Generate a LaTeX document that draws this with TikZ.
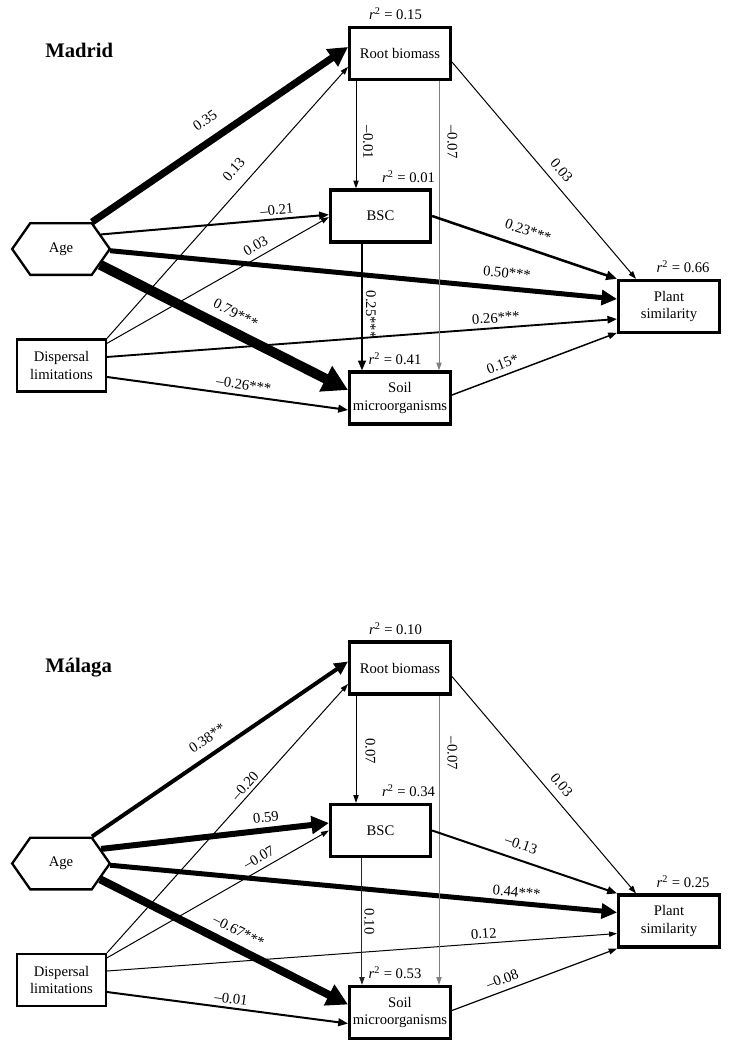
\documentclass[tikz,border=0pt]{standalone}
\usepackage{fontspec}
\setmainfont{Liberation Serif}
\usetikzlibrary{arrows.meta, shapes.symbols}

\begin{document}
\begin{tikzpicture}[x=0.75pt, y=-0.75pt,
    every node/.style={font=\fontsize{11}{13}\selectfont},
    box/.style={draw, line width=2.4pt, align=center, inner sep=1pt,
      minimum width=75.6pt, minimum height=39pt},
    hexa/.style={draw, signal, signal to=east and west, signal pointer angle=110,
      line width=1.75pt, minimum width=73.25pt, minimum height=38.75pt, inner sep=1pt},
    paneltitle/.style={font=\fontsize{15.5}{18}\selectfont\bfseries, anchor=base west, inner sep=0pt},
    rsq/.style={anchor=base, inner sep=0pt},
    coef/.style={sloped, inner sep=0pt},
    link/.style={-{Triangle[length=4.5pt 1.9, width=2.2pt 2.4]}, line width=.75pt},
  ]
  \useasboundingbox (0,0) rectangle (729,1049);

  % ---------------- Madrid ----------------
  \begin{scope}[name prefix=mad-]
    \node[paneltitle] (title) at (45,58) {Madrid};
    \node[box] (root) at (400,53.5) {Root biomass};
    \node[box, minimum width=75pt] (bsc) at (380.5,216) {BSC};
    \node[box] (soil) at (400,398) {Soil\\microorganisms};
    \node[box] (plant) at (669,306.5) {Plant\\similarity};
    \node[hexa] (age) at (61,249) {Age};
    \node[box, line width=1.75pt, minimum width=66.5pt] (disp) at (61.5,365.5) {Dispersal\\limitations};
    % r^2 above the boxes
    \node[rsq] (r2root) at ([xshift=-3.4pt, yshift=4.5pt]root.north) {\textit{r}\textsuperscript{2} = 0.15};
    \node[rsq] (r2bsc) at ([xshift=21pt, yshift=4.5pt]bsc.north) {\textit{r}\textsuperscript{2} = 0.01};
    \node[rsq] (r2soil) at ([xshift=-3.75pt, yshift=4.5pt]soil.north) {\textit{r}\textsuperscript{2} = 0.41};
    \node[rsq] (r2plant) at ([xshift=10.5pt, yshift=4.5pt]plant.north) {\textit{r}\textsuperscript{2} = 0.66};
    % paths from age
    \draw[link, line width=5.3pt] (age.41) -- ([yshift=4.9pt]root.west) node[coef, pos=.485, above=8.5pt] {0.35};
    \draw[link, line width=1.5pt] (age.20) -- ([yshift=1pt]bsc.west) node[coef, pos=.775, above=2.5pt] {–0.21};
    \draw[link, line width=3.75pt] (age.-2) -- ([yshift=5.6pt]plant.west) node[coef, pos=.78, above=6pt] {0.50***};
    \draw[link, line width=7.5pt] (age.-22) -- ([yshift=6pt]soil.west) node[coef, pos=.515, above=5.8pt] {0.79***};
    % paths from dispersal limitations
    \draw[link] (disp.north east) -- ([yshift=-10pt]root.west) node[coef, pos=.58, above=9pt] {0.13};
    \draw[link] ([yshift=-3.75pt]disp.north east) -- ([yshift=-.8pt]bsc.west) node[coef, pos=.695, above=4.5pt] {0.03};
    \draw[link, line width=1.4pt] ([yshift=6.4pt]disp.east) -- ([yshift=-9.4pt]plant.west) node[coef, pos=.764, above=3.2pt] {0.26***};
    \draw[link, line width=1.5pt] ([yshift=-8.6pt]disp.east) -- ([yshift=-9pt]soil.west) node[coef, pos=.562, above=3.5pt] {–0.26***};
    % paths from root biomass
    \draw[link] ([xshift=-33pt]root.south) -- ([xshift=-33pt]root.south |- bsc.north) node[coef, pos=.57, above=5pt] {–0.01};
    \draw[link, gray] ([xshift=29.25pt]root.south) -- ([xshift=29.25pt]root.south |- soil.north) node[coef, black, pos=.21, above=6pt] {–0.07};
    \draw[link] ([yshift=-6.4pt]root.east) -- ([xshift=-24.75pt]plant.north) node[coef, pos=.54, above=6pt] {0.03};
    % paths from BSC and soil
    \draw[link, line width=1.5pt] ([xshift=-13.9pt]bsc.south) -- ([xshift=-13.9pt]bsc.south |- soil.north) node[coef, pos=.56, above=2.25pt] {0.25***};
    \draw[link, line width=1.9pt] (bsc.east) -- (plant.north west) node[coef, pos=.49, above=8pt] {0.23***};
    \draw[link, line width=1.1pt] ([yshift=2.25pt]soil.east) -- ([yshift=1pt]plant.south west) node[coef, pos=.33, above=4pt] {0.15*};
  \end{scope}

  % ---------------- Malaga ----------------
  \begin{scope}[yshift=-460.875pt, name prefix=mal-]
    \node[paneltitle] (title) at (45,58) {Málaga};
    \node[box] (root) at (400,53.5) {Root biomass};
    \node[box, minimum width=75pt] (bsc) at (380.5,216) {BSC};
    \node[box] (soil) at (400,398) {Soil\\microorganisms};
    \node[box] (plant) at (669,306.5) {Plant\\similarity};
    \node[hexa] (age) at (61,249) {Age};
    \node[box, line width=1.75pt, minimum width=66.5pt] (disp) at (61.5,365.5) {Dispersal\\limitations};
    % r^2 above the boxes
    \node[rsq] (r2root) at ([xshift=-3.4pt, yshift=4.5pt]root.north) {\textit{r}\textsuperscript{2} = 0.10};
    \node[rsq] (r2bsc) at ([xshift=21pt, yshift=4.5pt]bsc.north) {\textit{r}\textsuperscript{2} = 0.34};
    \node[rsq] (r2soil) at ([xshift=-3.75pt, yshift=4.5pt]soil.north) {\textit{r}\textsuperscript{2} = 0.53};
    \node[rsq] (r2plant) at ([xshift=10.5pt, yshift=4.5pt]plant.north) {\textit{r}\textsuperscript{2} = 0.25};
    % paths from age
    \draw[link, line width=3pt] (age.41) -- ([yshift=4.9pt]root.west) node[coef, pos=.485, above=7pt] {0.38**};
    \draw[link, line width=4.5pt] (age.20) -- ([yshift=5.6pt]bsc.west) node[coef, pos=.73, above=3.5pt] {0.59};
    \draw[link, line width=3.75pt] (age.-2) -- ([yshift=6.4pt]plant.west) node[coef, pos=.8, above=2.5pt] {0.44***};
    \draw[link, line width=6pt] (age.-22) -- ([yshift=6pt]soil.west) node[coef, pos=.53, above=5.5pt] {–0.67***};
    % paths from dispersal limitations
    \draw[link] (disp.north east) -- ([yshift=-12pt]root.west) node[coef, pos=.6, above=2.5pt] {–0.20};
    \draw[link] ([yshift=-3.75pt]disp.north east) -- (bsc.west) node[coef, pos=.71, above=4.5pt] {–0.07};
    \draw[link] ([yshift=6.75pt]disp.east) -- ([yshift=-9.4pt]plant.west) node[coef, pos=.74, above=3pt] {0.12};
    \draw[link, line width=1.5pt] ([yshift=-9pt]disp.east) -- ([yshift=-8.25pt]soil.west) node[coef, pos=.51, above=2.7pt] {–0.01};
    % paths from root biomass
    \draw[link] ([xshift=-33pt]root.south) -- ([xshift=-33pt]root.south |- bsc.north) node[coef, pos=.52, above=6.75pt] {0.07};
    \draw[link, gray] ([xshift=29.25pt]root.south) -- ([xshift=29.25pt]root.south |- soil.north) node[coef, black, pos=.2, above=6pt] {–0.07};
    \draw[link] ([yshift=-6.4pt]root.east) -- ([xshift=-24.75pt]plant.north) node[coef, pos=.54, above=6pt] {0.03};
    % paths from BSC and soil
    \draw[link, black!85] ([xshift=-13.9pt]bsc.south) -- ([xshift=-13.9pt]bsc.south |- soil.north) node[coef, black, pos=.5, above=1.5pt] {0.10};
    \draw[link, line width=1.5pt] (bsc.east) -- (plant.north west) node[coef, pos=.455, above=7pt] {–0.13};
    \draw[link, line width=.9pt] ([yshift=1.5pt]soil.east) -- (plant.south west) node[coef, pos=.33, above=4.5pt] {–0.08};
  \end{scope}
\end{tikzpicture}
\end{document}
